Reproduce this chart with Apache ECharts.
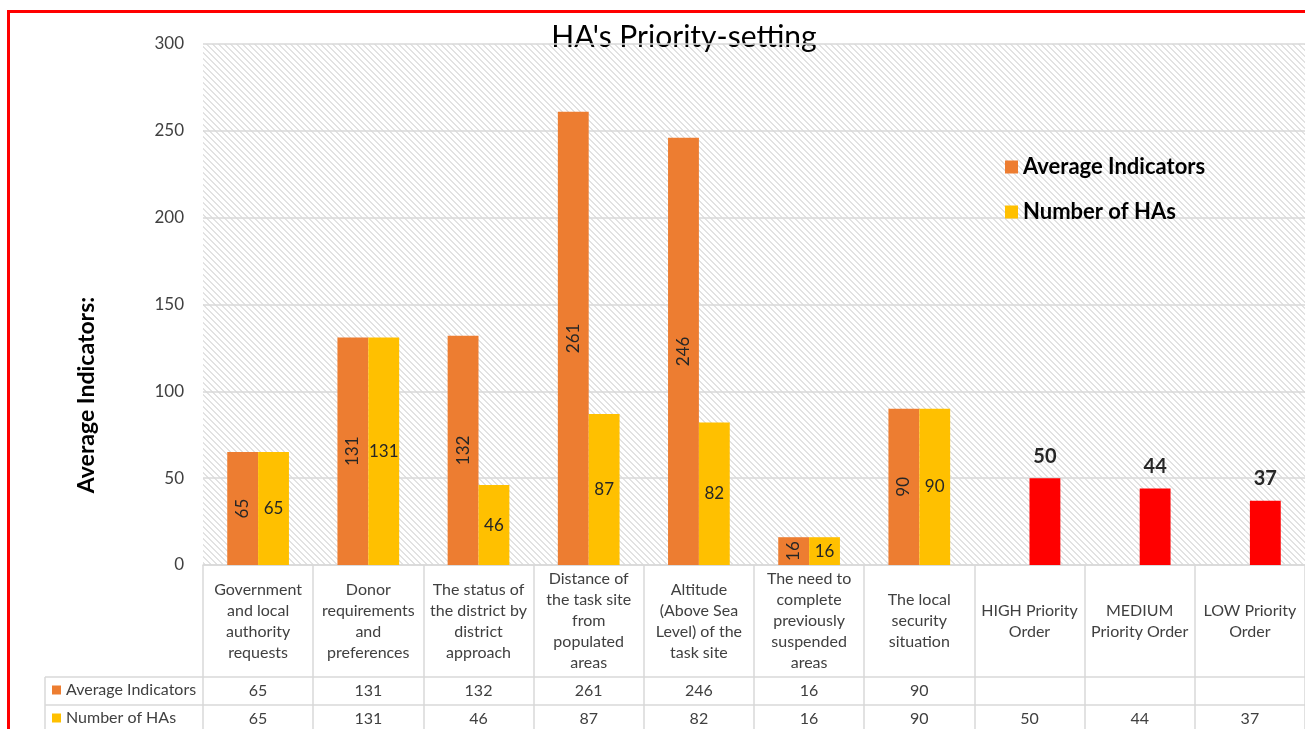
<!DOCTYPE html>
<html>
<head>
<meta charset="utf-8">
<title>HA's Priority-setting</title>
<script src="https://cdn.jsdelivr.net/npm/echarts@6/dist/echarts.min.js"></script>
<style>
  html, body { margin: 0; padding: 0; background: #fff; }
  #chart { width: 1305px; height: 729px; }
</style>
</head>
<body>
<div id="chart"></div>
<script>
// categories (table header row)
const categories = [
  'Government\nand local\nauthority\nrequests',
  'Donor\nrequirements\nand\npreferences',
  'The status of\nthe district by\ndistrict\napproach',
  'Distance of\nthe task site\nfrom\npopulated\nareas',
  'Altitude\n(Above Sea\nLevel) of the\ntask site',
  'The need to\ncomplete\npreviously\nsuspended\nareas',
  'The local\nsecurity\nsituation',
  'HIGH Priority\nOrder',
  'MEDIUM\nPriority Order',
  'LOW Priority\nOrder'
]
const avgIndicators = [65, 131, 132, 261, 246, 16, 90, null, null, null]
const numberOfHAs = [65, 131, 46, 87, 82, 16, 90, 50, 44, 37]
const yTicks = { min: 0, max: 300, interval: 50 }

const FONT = 'Lato, "Open Sans", sans-serif'
const ORANGE = '#ED7D31'
const YELLOW = '#FFC000'
const RED = '#FF0000'
const GRID_LINE = '#D9D9D9'
const TEXT = '#404040'

// diagonal hatch for the plot area
const makeHatch = () => {
  const size = 6
  const c = document.createElement('canvas')
  c.width = size
  c.height = size
  const ctx = c.getContext('2d')
  ctx.fillStyle = '#ffffff'
  ctx.fillRect(0, 0, size, size)
  ctx.fillStyle = '#e2e2e2'
  for (let y = 0; y < size; y++) {
    for (let x = 0; x < size; x++) {
      if (((x - y) % size + size) % size < 2) ctx.fillRect(x, y, 1, 1)
    }
  }
  return c
}

const chart = echarts.init(document.getElementById('chart'))

const gridLeft = 203, gridTop = 44, gridHeight = 521, gridWidth = 1110
const axisY = gridTop + gridHeight
const headerRow = 112, valueRow = 28

const haData = numberOfHAs.map((v, i) => {
  if (avgIndicators[i] != null) return v
  return {
    value: v,
    itemStyle: { color: RED },
    label: { position: 'top', distance: 12, fontSize: 20, fontWeight: 'bold', color: '#262626' }
  }
})

// row headers of the data table, one legend per row
const rowLegend = (name, row) => ({
  left: 52, top: axisY + headerRow + valueRow * row + 5,
  padding: 0,
  itemWidth: 9, itemHeight: 9,
  icon: 'rect',
  selectedMode: false,
  textStyle: { fontSize: 16, color: TEXT, fontFamily: FONT },
  data: [name]
})

chart.setOption({
  animation: false,
  textStyle: { fontFamily: FONT },
  grid: {
    left: gridLeft, top: gridTop, width: gridWidth, height: gridHeight,
    show: true,
    borderWidth: 0,
    backgroundColor: { image: makeHatch(), repeat: 'repeat' }
  },
  legend: [
    {
      orient: 'vertical',
      left: 1000, top: 151,
      itemWidth: 13, itemHeight: 13, itemGap: 23,
      icon: 'rect',
      selectedMode: false,
      textStyle: { fontSize: 22, fontWeight: 'bold', color: '#000', fontFamily: FONT },
      data: ['Average Indicators', 'Number of HAs']
    },
    rowLegend('Average Indicators', 0),
    rowLegend('Number of HAs', 1)
  ],
  xAxis: [
    {
      type: 'category',
      data: categories,
      axisLine: { lineStyle: { color: GRID_LINE, width: 1.5 } },
      axisTick: { show: true, alignWithLabel: false, length: 170, lineStyle: { color: GRID_LINE, width: 1.5 } },
      axisLabel: {
        interval: 0, fontSize: 16, lineHeight: 21, color: TEXT,
        verticalAlign: 'middle', margin: headerRow / 2
      }
    },
    {
      type: 'category',
      data: categories,
      position: 'bottom',
      offset: headerRow,
      axisLine: { lineStyle: { color: GRID_LINE, width: 1.5 } },
      axisTick: { show: false },
      axisLabel: {
        interval: 0, fontSize: 16, color: TEXT, verticalAlign: 'middle', margin: valueRow / 2,
        formatter: (v, i) => avgIndicators[i] == null ? '' : String(avgIndicators[i])
      }
    },
    {
      type: 'category',
      data: categories,
      position: 'bottom',
      offset: headerRow + valueRow,
      axisLine: { lineStyle: { color: GRID_LINE, width: 1.5 } },
      axisTick: { show: false },
      axisLabel: {
        interval: 0, fontSize: 16, color: TEXT, verticalAlign: 'middle', margin: valueRow / 2,
        formatter: (v, i) => String(numberOfHAs[i])
      }
    }
  ],
  yAxis: {
    type: 'value',
    min: yTicks.min, max: yTicks.max, interval: yTicks.interval,
    axisLine: { show: false },
    axisTick: { show: false },
    axisLabel: { fontSize: 17, color: TEXT, margin: 19 },
    splitLine: { lineStyle: { color: GRID_LINE, width: 1.5 } }
  },
  series: [
    {
      name: 'Average Indicators',
      type: 'bar',
      barGap: 0,
      barCategoryGap: '44%',
      itemStyle: { color: ORANGE },
      label: { show: true, position: 'inside', rotate: 90, fontSize: 17, color: '#262626' },
      data: avgIndicators
    },
    {
      name: 'Number of HAs',
      type: 'bar',
      barGap: 0,
      barCategoryGap: '44%',
      itemStyle: { color: YELLOW },
      label: { show: true, position: 'inside', fontSize: 17, color: '#262626' },
      data: haData
    }
  ],
  graphic: [
    {
      type: 'text', x: 684, y: 37,
      style: { text: "HA's Priority-setting", fontSize: 30, fontFamily: FONT, fill: '#000', align: 'center', verticalAlign: 'middle' }
    },
    {
      type: 'text', x: 87, y: 395, rotation: Math.PI / 2,
      style: { text: 'Average Indicators:', fontSize: 23, fontWeight: 'bold', fontFamily: FONT, fill: '#000', align: 'center', verticalAlign: 'middle' }
    },
    { type: 'line', shape: { x1: 45, y1: axisY + headerRow, x2: gridLeft, y2: axisY + headerRow }, style: { stroke: GRID_LINE, lineWidth: 1.5 } },
    { type: 'line', shape: { x1: 45, y1: axisY + headerRow + valueRow, x2: gridLeft, y2: axisY + headerRow + valueRow }, style: { stroke: GRID_LINE, lineWidth: 1.5 } },
    { type: 'line', shape: { x1: 45, y1: axisY + headerRow, x2: 45, y2: 740 }, style: { stroke: GRID_LINE, lineWidth: 1.5 } },
    { type: 'rect', shape: { x: 8.5, y: 11.5, width: 1400, height: 800 }, style: { fill: null, stroke: RED, lineWidth: 3 } }
  ]
})
</script>
</body>
</html>
